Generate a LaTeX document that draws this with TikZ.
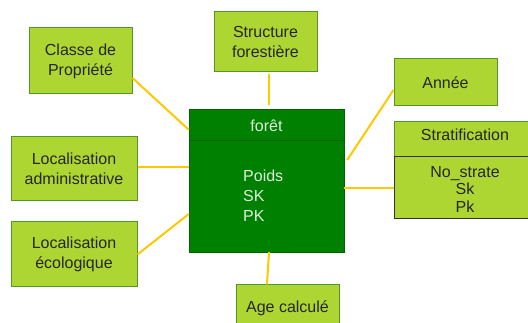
\documentclass[tikz,border=0pt]{standalone}
\usepackage{fontspec}
\setmainfont{Liberation Sans}
\usetikzlibrary{calc}
\definecolor{leaf}{RGB}{173,214,51}
\definecolor{leafedge}{RGB}{80,150,40}
\definecolor{forest}{RGB}{0,128,0}
\definecolor{forestedge}{RGB}{0,100,0}
\definecolor{link}{RGB}{255,200,0}
\definecolor{pale}{RGB}{220,238,220}
\begin{document}
\begin{tikzpicture}[x=1pt,y=-1pt,
  txt/.style={font={\fontsize{16}{20}\selectfont}},
  attr/.style={txt,draw=leafedge,fill=leaf,line width=1pt,text=black!85,
    align=center,inner sep=0pt},
  link/.style={draw=link,line width=2pt}]
\useasboundingbox (0,0) rectangle (528,323);
\clip (0,0) rectangle (528,323);

% central entity
\node[draw=forestedge,fill=forest,minimum width=155pt,minimum height=143pt,inner sep=0pt]
  (foret) at (266.5,180.5) {};
\draw[forestedge,line width=1pt] (189.5,141) -- (343.5,141);
\node[txt,text=pale,inner sep=0pt] (foretname) at (266.5,126) {forêt};
\node[txt,text=pale,align=left,anchor=west,inner sep=0pt] (foretattr) at (243,196) {Poids\\SK\\PK};

% surrounding attribute boxes
\node[attr,minimum width=103pt,minimum height=66pt] (classe) at (80.5,61) {Classe de\\Propriété};
\node[attr,minimum width=103pt,minimum height=60pt] (structure) at (265.5,42) {Structure\\forestière};
\node[attr,minimum width=103pt,minimum height=47pt] (annee) at (445.5,82.5) {Année};
\node[attr,minimum width=126pt,minimum height=64pt] (locadm) at (74,169) {Localisation\\administrative};
\node[attr,minimum width=126pt,minimum height=65pt] (loceco) at (74,254.5) {Localisation\\écologique};
\node[attr,minimum width=103pt,minimum height=46pt] (age) at (287.5,308) {Age calculé};

% stratification entity with two compartments
\node[attr,minimum width=142pt,minimum height=97pt] (strat) at (465,170.5) {};
\draw[black!80,line width=1pt] (394,157) -- (536,157) (394,157) -- (394,219) -- (536,219);
\node[txt,text=black!85,inner sep=0pt] (stratname) at (465,135) {Stratification};
\node[txt,text=black!85,align=center,inner sep=0pt,font={\fontsize{16}{17.5}\selectfont}]
  (stratattr) at (465,189) {No\_strate\\Sk\\Pk};

% connectors (y axis points down, so yshift < 0 moves a point down)
\draw[link] ([yshift=-17pt]classe.east) -- ([yshift=-21pt]foret.north west);
\draw[link] ([xshift=3.5pt,yshift=-2pt]structure.south) -- ([xshift=2.5pt,yshift=4pt]foret.north);
\draw[link] ([yshift=-7.5pt]annee.west) -- ([xshift=3pt,yshift=20.5pt]foret.east);
\draw[link] ([yshift=-17.5pt]strat.west) -- ([yshift=-7.5pt]foret.east);
\draw[link] ([yshift=2pt]locadm.east) -- ([yshift=13.5pt]foret.west);
\draw[link] (loceco.east) -- ([yshift=-33.5pt]foret.west);
\draw[link] ([xshift=2.5pt]foret.south) -- ([xshift=-20.5pt]age.north);
\end{tikzpicture}
\end{document}
